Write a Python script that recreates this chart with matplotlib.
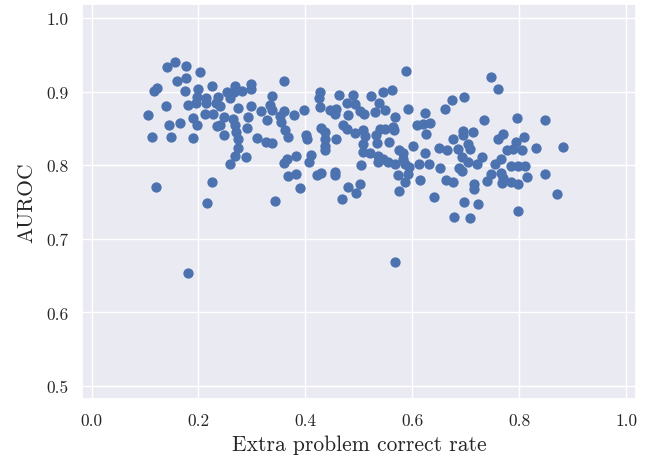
import numpy as np
import matplotlib
matplotlib.use('Agg')
import matplotlib.pyplot as plt
import seaborn as sns

# extra problem correct rate vs AUROC, one point per model
correct_rate = [
    0.142, 0.157, 0.177, 0.202, 0.159, 0.177, 0.117, 0.122, 0.225, 0.175,
    0.200, 0.197, 0.214, 0.237, 0.253, 0.180, 0.195, 0.214, 0.233, 0.241,
    0.139, 0.106, 0.212, 0.228, 0.248, 0.189, 0.198, 0.165, 0.144, 0.235,
    0.241, 0.248, 0.114, 0.148, 0.189, 0.258, 0.226, 0.120, 0.216, 0.180,
    0.360, 0.298, 0.298, 0.268, 0.266, 0.282, 0.258, 0.337, 0.427, 0.426,
    0.463, 0.477, 0.274, 0.298, 0.334, 0.337, 0.316, 0.359, 0.379, 0.397,
    0.427, 0.446, 0.458, 0.455, 0.480, 0.265, 0.293, 0.329, 0.352, 0.354,
    0.268, 0.290, 0.271, 0.362, 0.367, 0.430, 0.436, 0.471, 0.477, 0.274,
    0.310, 0.327, 0.337, 0.401, 0.403, 0.436, 0.457, 0.274, 0.268, 0.288,
    0.360, 0.365, 0.382, 0.407, 0.410, 0.436, 0.436, 0.382, 0.367, 0.390,
    0.343, 0.421, 0.429, 0.455, 0.455, 0.480, 0.469, 0.588, 0.489, 0.522,
    0.545, 0.561, 0.493, 0.502, 0.509, 0.538, 0.530, 0.549, 0.592, 0.567,
    0.623, 0.660, 0.674, 0.696, 0.493, 0.508, 0.511, 0.539, 0.549, 0.532,
    0.564, 0.566, 0.609, 0.620, 0.633, 0.625, 0.557, 0.507, 0.534, 0.508,
    0.521, 0.536, 0.575, 0.583, 0.601, 0.545, 0.555, 0.567, 0.582, 0.586,
    0.612, 0.623, 0.631, 0.650, 0.665, 0.676, 0.695, 0.695, 0.704, 0.686,
    0.692, 0.704, 0.504, 0.651, 0.687, 0.536, 0.593, 0.573, 0.591, 0.587,
    0.574, 0.615, 0.663, 0.675, 0.502, 0.494, 0.641, 0.697, 0.678, 0.707,
    0.567, 0.746, 0.760, 0.734, 0.796, 0.847, 0.714, 0.707, 0.760, 0.769,
    0.776, 0.793, 0.809, 0.804, 0.788, 0.831, 0.882, 0.731, 0.721, 0.754,
    0.765, 0.785, 0.798, 0.810, 0.692, 0.746, 0.739, 0.765, 0.769, 0.767,
    0.785, 0.798, 0.815, 0.848, 0.715, 0.715, 0.871, 0.723, 0.798,
]
auroc = [
    0.934, 0.940, 0.935, 0.927, 0.915, 0.919, 0.901, 0.905, 0.908, 0.901,
    0.903, 0.893, 0.891, 0.893, 0.899, 0.882, 0.885, 0.885, 0.885, 0.880,
    0.881, 0.868, 0.870, 0.870, 0.865, 0.864, 0.855, 0.857, 0.855, 0.853,
    0.855, 0.841, 0.838, 0.839, 0.837, 0.802, 0.777, 0.770, 0.749, 0.654,
    0.914, 0.910, 0.904, 0.907, 0.899, 0.901, 0.891, 0.894, 0.899, 0.891,
    0.895, 0.884, 0.878, 0.880, 0.882, 0.875, 0.874, 0.874, 0.868, 0.875,
    0.879, 0.875, 0.876, 0.869, 0.868, 0.863, 0.865, 0.861, 0.867, 0.859,
    0.855, 0.851, 0.845, 0.848, 0.839, 0.851, 0.845, 0.855, 0.849, 0.836,
    0.837, 0.832, 0.830, 0.841, 0.835, 0.835, 0.836, 0.823, 0.813, 0.811,
    0.803, 0.808, 0.812, 0.805, 0.814, 0.826, 0.821, 0.788, 0.785, 0.769,
    0.751, 0.787, 0.790, 0.791, 0.787, 0.771, 0.754, 0.928, 0.896, 0.894,
    0.900, 0.902, 0.883, 0.874, 0.869, 0.884, 0.872, 0.875, 0.877, 0.866,
    0.871, 0.876, 0.889, 0.893, 0.844, 0.848, 0.840, 0.849, 0.849, 0.841,
    0.852, 0.848, 0.855, 0.856, 0.857, 0.842, 0.831, 0.829, 0.830, 0.818,
    0.817, 0.813, 0.821, 0.817, 0.826, 0.808, 0.804, 0.801, 0.808, 0.801,
    0.801, 0.816, 0.801, 0.824, 0.821, 0.836, 0.847, 0.841, 0.829, 0.822,
    0.811, 0.804, 0.800, 0.796, 0.796, 0.804, 0.797, 0.787, 0.788, 0.777,
    0.765, 0.780, 0.780, 0.777, 0.775, 0.762, 0.757, 0.750, 0.730, 0.728,
    0.668, 0.920, 0.904, 0.861, 0.864, 0.862, 0.845, 0.822, 0.836, 0.842,
    0.821, 0.832, 0.838, 0.821, 0.822, 0.824, 0.825, 0.811, 0.801, 0.801,
    0.809, 0.799, 0.799, 0.799, 0.792, 0.788, 0.779, 0.790, 0.783, 0.776,
    0.777, 0.774, 0.784, 0.788, 0.774, 0.768, 0.761, 0.747, 0.738,
]

x_ticks = [0.0, 0.2, 0.4, 0.6, 0.8, 1.0]
y_ticks = [0.5, 0.6, 0.7, 0.8, 0.9, 1.0]

sns.set_theme(style='darkgrid')
plt.rcParams['font.family'] = 'serif'
plt.rcParams['font.serif'] = ['cmr10']
plt.rcParams['mathtext.fontset'] = 'cm'
plt.rcParams['axes.formatter.use_mathtext'] = True

fig = plt.figure(figsize=(6.55, 4.6), dpi=100)
ax = fig.add_axes([0.125, 0.130, 0.846, 0.859])

ax.scatter(correct_rate, auroc, s=55, color='#4c72b0', linewidths=0)

ax.set_xlim(-0.018, 1.018)
ax.set_ylim(0.482, 1.019)
ax.set_xticks(x_ticks)
ax.set_yticks(y_ticks)
ax.set_xticklabels([f'{t:.1f}' for t in x_ticks])
ax.set_yticklabels([f'{t:.1f}' for t in y_ticks])
ax.tick_params(labelsize=12.5)
ax.set_xlabel('Extra problem correct rate', fontsize=15.5, labelpad=5)
ax.set_ylabel('AUROC', fontsize=15.5, labelpad=7)

fig.savefig('out.png', dpi=100)
